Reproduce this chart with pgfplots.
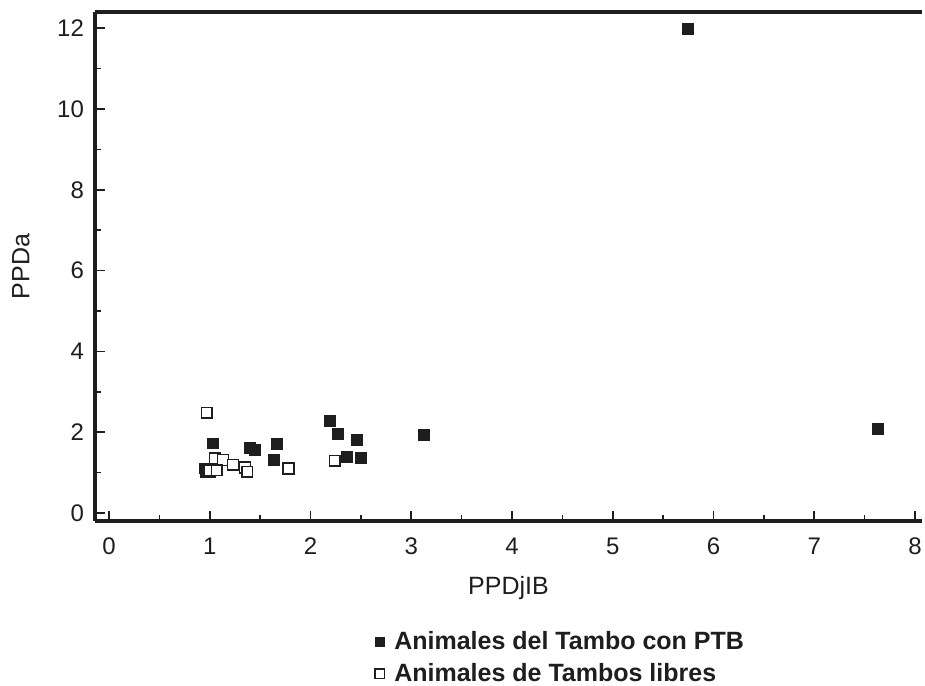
\documentclass[border=0pt]{standalone}
\usepackage{pgfplots}
\pgfplotsset{compat=1.18}
\usepackage{fontspec}
\setmainfont{Liberation Sans}
\definecolor{ink}{HTML}{1E1E1E}
\begin{document}
\begin{tikzpicture}
\path[use as bounding box] (-47.5pt,-82pt) rectangle (415pt,260.5pt);
\begin{axis}[
  at={(0,0)}, anchor=south west,
  scale only axis, width=413.5pt, height=254.5pt,
  xmin=-0.14, xmax=8.07, ymin=-0.2, ymax=12.4,
  axis x line*=bottom, axis y line*=left,
  axis line style={line width=1.8pt, ink, -},
  separate axis lines,
  every outer x axis line/.append style={-},
  every outer y axis line/.append style={-},
  xtick={0,...,8}, ytick={0,2,...,12},
  minor xtick={0.5,1.5,...,7.5}, minor ytick={1,3,...,11},
  tick align=inside,
  major tick length=5pt, minor tick length=3pt,
  every tick/.style={ink, line width=0.8pt},
  tick label style={font=\fontsize{12}{14}\selectfont, color=ink},
  /pgf/number format/assume math mode=true,
  xticklabel style={yshift=-5pt},
  yticklabel style={xshift=-2pt},
  xlabel={PPDjIB}, ylabel={PPDa},
  label style={font=\fontsize{12.5}{14}\selectfont, color=ink},
  xlabel style={yshift=-4pt},
  ylabel style={yshift=7pt},
  clip=false,
  legend style={at={(0.331,-0.2)}, anchor=north west, draw=none, fill=none,
    font=\bfseries\fontsize{12.5}{14}\selectfont, text=ink, row sep=1.5pt,
    legend cell align=left,
    /tikz/every odd column/.append style={column sep=3pt}},
  legend image post style={mark size=2.3pt},
  legend cell align=left,
]
\addplot[only marks, mark=square*, mark size=2.7pt, ink, mark options={fill=ink, draw=ink, line width=0.5pt}] coordinates {
(5.75,11.97) (7.63,2.08) (3.13,1.92) (2.19,2.27) (2.27,1.96) (2.46,1.81)
(2.36,1.39) (2.50,1.36) (1.67,1.71) (1.64,1.31) (1.40,1.60) (1.45,1.55)
(1.03,1.72) (0.95,1.10) (0.96,1.02) (1.00,1.00)
};
\addlegendentry{Animales del Tambo con PTB}
\addplot[only marks, mark=square*, mark size=2.7pt, ink, mark options={fill=white, draw=ink, line width=0.8pt}] coordinates {
(0.97,2.48) (1.05,1.35) (1.13,1.31) (1.00,1.05) (1.07,1.06) (1.23,1.19)
(1.35,1.12) (1.37,1.02) (1.78,1.10) (2.24,1.29)
};
\addlegendentry{Animales de Tambos libres}
\draw[line width=1.8pt, ink] (rel axis cs:0,1) -- (rel axis cs:1,1);
\end{axis}
\end{tikzpicture}
\end{document}
